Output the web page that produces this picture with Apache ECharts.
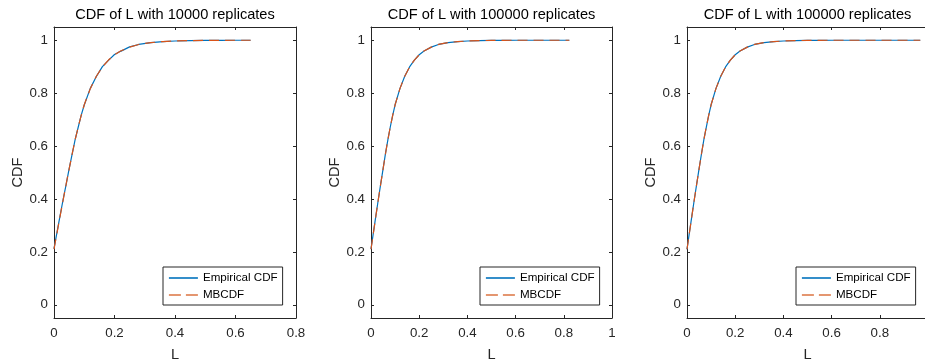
<!DOCTYPE html>
<html>
<head>
<meta charset="utf-8">
<script src="https://cdn.jsdelivr.net/npm/echarts@6/dist/echarts.min.js"></script>
<style>
  html, body { margin: 0; padding: 0; background: #ffffff; }
  #chart { width: 925px; height: 362px; }
</style>
</head>
<body>
<div id="chart"></div>
<script>
// ---- data ----
const titles = ['CDF of L with 10000 replicates', 'CDF of L with 100000 replicates', 'CDF of L with 100000 replicates'];
const seriesNames = ['Empirical CDF', 'MBCDF'];
const yTicks = [0, 0.2, 0.4, 0.6, 0.8, 1];
const xMax = [0.8, 1, 1];

// panel 1: 10000 replicates
const L1 = [0, 0.01, 0.02, 0.03, 0.04, 0.05, 0.06, 0.07, 0.08, 0.09, 0.10, 0.12, 0.14, 0.16, 0.18, 0.20, 0.22, 0.25, 0.28, 0.32, 0.36, 0.40, 0.45, 0.50, 0.55, 0.60, 0.65];
const empirical1 = [0.212, 0.275, 0.336, 0.397, 0.454, 0.514, 0.569, 0.625, 0.671, 0.717, 0.755, 0.818, 0.863, 0.900, 0.924, 0.946, 0.958, 0.975, 0.984, 0.991, 0.995, 0.997, 0.9986, 0.9993, 0.9997, 0.9999, 1.0];
const mbcdf1 = [0.210, 0.272, 0.334, 0.395, 0.455, 0.513, 0.570, 0.624, 0.672, 0.716, 0.756, 0.817, 0.864, 0.899, 0.925, 0.945, 0.959, 0.974, 0.984, 0.991, 0.995, 0.997, 0.9985, 0.9993, 0.9997, 0.9999, 1.0];

// panel 2: 100000 replicates
const L2 = [0, 0.01, 0.02, 0.03, 0.04, 0.05, 0.06, 0.07, 0.08, 0.09, 0.10, 0.12, 0.14, 0.16, 0.18, 0.20, 0.22, 0.25, 0.28, 0.32, 0.36, 0.40, 0.45, 0.50, 0.55, 0.60, 0.70, 0.823];
const empirical2 = [0.211, 0.273, 0.335, 0.396, 0.455, 0.513, 0.571, 0.623, 0.672, 0.716, 0.756, 0.817, 0.864, 0.899, 0.925, 0.945, 0.959, 0.974, 0.984, 0.991, 0.995, 0.997, 0.9985, 0.9993, 0.9997, 0.9999, 1.0, 1.0];
const mbcdf2 = [0.210, 0.272, 0.334, 0.395, 0.455, 0.513, 0.570, 0.624, 0.672, 0.716, 0.756, 0.817, 0.864, 0.899, 0.925, 0.945, 0.959, 0.974, 0.984, 0.991, 0.995, 0.997, 0.9985, 0.9993, 0.9997, 0.9999, 1.0, 1.0];

// panel 3: 100000 replicates
const L3 = [0, 0.01, 0.02, 0.03, 0.04, 0.05, 0.06, 0.07, 0.08, 0.09, 0.10, 0.12, 0.14, 0.16, 0.18, 0.20, 0.22, 0.25, 0.28, 0.32, 0.36, 0.40, 0.45, 0.50, 0.55, 0.60, 0.70, 0.80, 0.90, 0.968];
const empirical3 = [0.210, 0.273, 0.334, 0.396, 0.455, 0.514, 0.570, 0.624, 0.671, 0.716, 0.756, 0.817, 0.864, 0.899, 0.925, 0.945, 0.959, 0.974, 0.984, 0.991, 0.995, 0.997, 0.9985, 0.9993, 0.9997, 0.9999, 1.0, 1.0, 1.0, 1.0];
const mbcdf3 = [0.210, 0.272, 0.334, 0.395, 0.455, 0.513, 0.570, 0.624, 0.672, 0.716, 0.756, 0.817, 0.864, 0.899, 0.925, 0.945, 0.959, 0.974, 0.984, 0.991, 0.995, 0.997, 0.9985, 0.9993, 0.9997, 0.9999, 1.0, 1.0, 1.0, 1.0];

const panels = [
  { L: L1, emp: empirical1, mb: mbcdf1 },
  { L: L2, emp: empirical2, mb: mbcdf2 },
  { L: L3, emp: empirical3, mb: mbcdf3 }
];

// ---- layout / style ----
const FONT = '"Liberation Sans", Arial, Helvetica, sans-serif';
const INK = '#262626';
const BLUE = '#0072BD';
const ORANGE = '#D95319';
const gridBoxes = [
  { left: 54, top: 27, width: 242, height: 291 },
  { left: 371, top: 27, width: 241, height: 291 },
  { left: 687, top: 27, width: 241, height: 291 }
];

const pairs = (xs, ys) => xs.map((x, i) => [x, ys[i]]);

const option = {
  backgroundColor: '#ffffff',
  animation: false,
  title: [],
  legend: [],
  grid: [],
  xAxis: [],
  yAxis: [],
  series: []
};

gridBoxes.forEach((g, i) => {
  option.grid.push(Object.assign({ containLabel: false, outerBoundsMode: 'none' }, g));

  option.title.push({
    text: titles[i],
    left: g.left + g.width / 2,
    top: 7,
    textAlign: 'center',
    padding: 0,
    textStyle: { fontFamily: FONT, fontSize: 14.6, fontWeight: 'normal', color: '#000000' }
  });

  const lineStyle = { color: INK, width: 1 };
  // bottom axis
  option.xAxis.push({
    type: 'value', gridIndex: i, position: 'bottom', min: 0, max: xMax[i], interval: 0.2,
    name: 'L', nameLocation: 'middle', nameGap: 29,
    nameTextStyle: { fontFamily: FONT, fontSize: 14.6, color: INK },
    axisLine: { show: true, onZero: false, lineStyle },
    axisTick: { show: true, inside: true, length: 3, lineStyle },
    axisLabel: { fontFamily: FONT, fontSize: 13.3, color: INK, margin: 9 },
    splitLine: { show: false }
  });
  // top frame axis
  option.xAxis.push({
    type: 'value', gridIndex: i, position: 'top', min: 0, max: xMax[i], interval: 0.2,
    axisLine: { show: true, onZero: false, lineStyle },
    axisTick: { show: true, inside: true, length: 3, lineStyle },
    axisLabel: { show: false },
    splitLine: { show: false }
  });
  // left axis
  option.yAxis.push({
    type: 'value', gridIndex: i, position: 'left', min: -0.05, max: 1.05,
    name: 'CDF', nameLocation: 'middle', nameGap: 23,
    nameTextStyle: { fontFamily: FONT, fontSize: 14.6, color: INK },
    axisLine: { show: true, onZero: false, lineStyle },
    axisTick: { show: true, inside: true, length: 3, lineStyle, customValues: yTicks },
    axisLabel: { fontFamily: FONT, fontSize: 13.3, color: INK, margin: 6, customValues: yTicks },
    splitLine: { show: false }
  });
  // right frame axis
  option.yAxis.push({
    type: 'value', gridIndex: i, position: 'right', min: -0.05, max: 1.05,
    axisLine: { show: true, onZero: false, lineStyle },
    axisTick: { show: true, inside: true, length: 3, lineStyle, customValues: yTicks },
    axisLabel: { show: false },
    splitLine: { show: false }
  });

  const p = panels[i];
  option.series.push({
    name: seriesNames[0], type: 'line', xAxisIndex: 2 * i, yAxisIndex: 2 * i,
    data: pairs(p.L, p.emp), showSymbol: false, symbol: 'none', smooth: false,
    lineStyle: { color: BLUE, width: 1.2 }, itemStyle: { color: BLUE }, z: 2
  });
  option.series.push({
    name: seriesNames[1], type: 'line', xAxisIndex: 2 * i, yAxisIndex: 2 * i,
    data: pairs(p.L, p.mb), showSymbol: false, symbol: 'none', smooth: false,
    lineStyle: { color: ORANGE, width: 1.2, type: [10, 6] }, itemStyle: { color: ORANGE }, z: 3
  });

  option.legend.push({
    data: [
      { name: seriesNames[0], lineStyle: { width: 1.6 } },
      { name: seriesNames[1], lineStyle: { width: 1.8, type: [12, 5], color: '#E49670' } }
    ],
    orient: 'vertical',
    left: g.left + 109,
    top: 267,
    itemWidth: 29,
    itemHeight: 14,
    itemGap: 5,
    padding: [5, 5, 4, 5],
    backgroundColor: '#ffffff',
    borderColor: INK,
    borderWidth: 1,
    borderRadius: 0,
    selectedMode: false,
    itemStyle: { opacity: 0 },
    textStyle: { fontFamily: FONT, fontSize: 11.6, color: '#000000' }
  });
});

const chart = echarts.init(document.getElementById('chart'), null, { renderer: 'canvas' });
chart.setOption(option);
</script>
</body>
</html>
